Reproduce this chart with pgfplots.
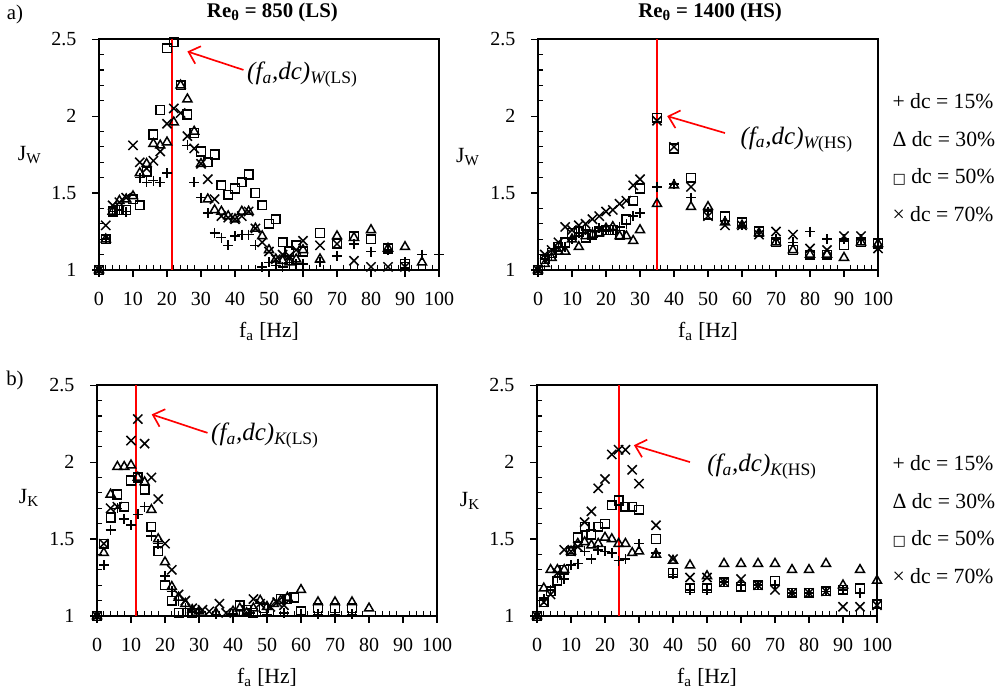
\documentclass[border=0pt]{standalone}
\usepackage{fontspec}
\setmainfont{Liberation Serif}
\newfontfamily\dejavu{DejaVu Sans}
\usepackage{pgfplots}
\pgfplotsset{compat=1.18}
\usetikzlibrary{arrows.meta}

\tikzset{
 arr/.style={red, line width=1pt, -{Straight Barb[length=6pt,width=11pt]}},
 ann/.style={font=\fontsize{15}{17}\selectfont\itshape, anchor=west, inner sep=0pt},
 ttl/.style={font=\bfseries\fontsize{12.5}{14}\selectfont, anchor=center},
}
\pgfplotsset{
 panel/.style={
  scale only axis, width=204pt, height=138.5pt,
  xmin=0, xmax=100, ymin=1, ymax=2.5,
  xtick={0,10,...,100}, ytick={1,1.5,2,2.5},
  minor x tick num=4, minor y tick num=4,
  xtick pos=bottom, ytick pos=left,
  tick align=outside, major tick length=4pt, minor tick length=-3pt,
  tick style={black, line width=0.7pt},
  axis line style={line width=0.8pt},
  clip=false,
  /pgf/number format/assume math mode=true,
  ticklabel style={font=\fontsize{12}{14}\selectfont},
  xticklabel style={yshift=-6pt},
  yticklabel style={xshift=-6pt},
  label style={font=\fontsize{13}{15}\selectfont},
  xlabel={f\textsubscript{a} [Hz]},
  xlabel style={at={(axis description cs:0.5,-0.265)}, anchor=center},
  ylabel style={rotate=-90, anchor=center},
 },
 sP/.style={only marks, mark=+, mark size=3.0pt, black, mark options={line width=0.9pt}},
 sT/.style={only marks, mark=triangle, mark size=3.1pt, black, mark options={line width=0.9pt}},
 sS/.style={only marks, mark=square, mark size=2.6pt, black, mark options={line width=0.9pt}},
 sX/.style={only marks, mark=x, mark size=3.9pt, black, mark options={line width=0.9pt}},
 redl/.style={red, line width=1.1pt},
}

\begin{document}
\begin{tikzpicture}
\path[use as bounding box] (0,0) rectangle (600pt,417pt);

% ---------------- a) left
\begin{axis}[panel, at={(59.4pt,255pt)}, anchor=south west,
  ylabel={J\textsubscript{W}}, ylabel style={at={(axis description cs:-0.204,0.5)}}]
\addplot[redl] coordinates {(21.5,1) (21.5,2.5)};
\addplot[sP] coordinates {(0,1) (2,1.2) (4,1.38) (6,1.39) (8,1.38) (12,1.60) (14,1.57) (16,1.58) (18,1.57) (20,1.63) (26,1.81) (28,1.57) (30,1.47) (32,1.37) (34,1.24) (36,1.21) (38,1.16) (40,1.22) (42,1.23) (44,1.23) (46,1.16) (48,1.02) (50,1.05) (52,1.03) (54,1.02) (56,1.05) (58,1.04) (60,1.04) (65,1.05) (70,1.09) (75,1.17) (80,1.12) (85,1.13) (90,1.05) (95,1.10) (100,1.10)};
\addplot[sT] coordinates {(0,1) (2,1.2) (4,1.38) (6,1.45) (8,1.46) (10,1.48) (12,1.63) (14,1.69) (16,1.82) (18,1.81) (20,1.83) (22,1.96) (24,2.20) (26,2.11) (28,1.90) (30,1.69) (32,1.46) (34,1.39) (36,1.38) (38,1.35) (40,1.33) (42,1.38) (44,1.38) (46,1.27) (48,1.22) (50,1.13) (52,1.07) (54,1.06) (56,1.05) (58,1.07) (60,1.13) (65,1.07) (70,1.22) (75,1.21) (80,1.26) (85,1.14) (90,1.15) (95,1.05)};
\addplot[sS] coordinates {(0,1) (2,1.20) (4,1.38) (6,1.39) (8,1.39) (10,1.46) (12,1.42) (14,1.64) (16,1.88) (18,2.04) (20,2.44) (22,2.48) (24,2.20) (26,2.01) (28,1.89) (30,1.77) (32,1.70) (34,1.75) (36,1.55) (38,1.49) (40,1.53) (42,1.57) (44,1.62) (46,1.50) (48,1.42) (50,1.30) (52,1.33) (54,1.18) (56,1.12) (58,1.16) (60,1.12) (65,1.24) (70,1.17) (75,1.22) (80,1.20) (85,1.14) (90,1.04)};
\addplot[sX] coordinates {(0,1) (2,1.29) (4,1.42) (6,1.44) (8,1.47) (10,1.81) (12,1.70) (14,1.66) (16,1.71) (18,1.77) (20,1.95) (22,2.05) (24,2.02) (26,1.87) (28,1.79) (30,1.69) (32,1.59) (34,1.46) (36,1.35) (38,1.34) (40,1.33) (42,1.35) (44,1.38) (46,1.27) (48,1.18) (50,1.12) (52,1.07) (54,1.10) (56,1.09) (58,1.13) (60,1.19) (65,1.16) (70,1.17) (75,1.06) (80,1.02) (85,1.02) (90,1.02)};
\draw[arr] (axis cs:42.5,2.30) -- (axis cs:26,2.42);
\node[ann] at (axis cs:43.5,2.27) {(f\textsubscript{a},dc)\textsubscript{W\upshape(LS)}};
\node[ttl] at (axis description cs:0.51,1.117) {Re\textsubscript{θ} = 850 (LS)};
\end{axis}

% ---------------- a) right
\begin{axis}[panel, at={(322.8pt,255pt)}, anchor=south west,
  ylabel={J\textsubscript{W}}, ylabel style={at={(axis description cs:-0.206,0.49)}}]
\addplot[redl] coordinates {(35,1) (35,2.5)};
\addplot[sP] coordinates {(0,1) (2,1.07) (4,1.10) (6,1.15) (8,1.15) (10,1.20) (12,1.24) (14,1.26) (16,1.25) (18,1.27) (20,1.26) (22,1.26) (24,1.28) (26,1.30) (28,1.35) (30,1.37) (35,1.54) (40,1.56) (45,1.47) (50,1.38) (55,1.32) (60,1.29) (65,1.25) (70,1.20) (75,1.18) (80,1.25) (85,1.20) (90,1.20) (95,1.20) (100,1.20)};
\addplot[sT] coordinates {(0,1) (2,1.04) (4,1.08) (6,1.12) (8,1.12) (10,1.20) (12,1.15) (14,1.22) (16,1.23) (18,1.24) (20,1.27) (22,1.28) (24,1.22) (26,1.22) (28,1.19) (30,1.26) (35,1.43) (40,1.55) (45,1.41) (50,1.41) (55,1.31) (60,1.29) (65,1.24) (70,1.18) (75,1.13) (80,1.10) (85,1.10) (90,1.08) (95,1.18) (100,1.17)};
\addplot[sS] coordinates {(0,1) (2,1.07) (4,1.11) (6,1.15) (8,1.18) (10,1.24) (12,1.25) (14,1.21) (16,1.23) (18,1.25) (20,1.26) (22,1.26) (24,1.23) (26,1.33) (28,1.45) (30,1.53) (35,1.99) (40,1.79) (45,1.60) (50,1.36) (55,1.35) (60,1.31) (65,1.25) (70,1.18) (75,1.13) (80,1.10) (85,1.10) (90,1.16) (95,1.18) (100,1.17)};
\addplot[sX] coordinates {(0,1) (2,1.10) (4,1.13) (6,1.18) (8,1.28) (10,1.26) (12,1.29) (14,1.30) (16,1.33) (18,1.35) (20,1.38) (22,1.39) (24,1.43) (26,1.45) (28,1.55) (30,1.59) (35,1.97) (40,1.80) (45,1.54) (50,1.35) (55,1.29) (60,1.29) (65,1.23) (70,1.25) (75,1.23) (80,1.14) (85,1.13) (90,1.22) (95,1.22) (100,1.14)};
\draw[arr] (axis cs:55,1.89) -- (axis cs:38,2.0);
\node[ann] at (axis cs:59.5,1.85) {(f\textsubscript{a},dc)\textsubscript{W\upshape(HS)}};
\node[ttl] at (axis description cs:0.506,1.117) {Re\textsubscript{θ} = 1400 (HS)};
\end{axis}

% ---------------- b) left
\begin{axis}[panel, at={(58.2pt,47.4pt)}, anchor=south west,
  ylabel={J\textsubscript{K}}, ylabel style={at={(axis description cs:-0.2,0.51)}}]
\addplot[redl] coordinates {(11.5,1) (11.5,2.5)};
\addplot[sP] coordinates {(0,1) (2,1.33) (4,1.56) (6,1.70) (8,1.63) (10,1.59) (12,1.66) (14,1.71) (16,1.52) (18,1.47) (20,1.26) (22,1.16) (24,1.10) (26,1.05) (28,1.03) (30,1.02) (35,1.01) (40,1.01) (45,1.02) (50,1.01) (55,1.02) (60,1.01) (65,1.01) (70,1.01) (75,1.01)};
\addplot[sT] coordinates {(0,1) (2,1.41) (4,1.79) (6,1.97) (8,1.97) (10,1.98) (12,1.90) (14,1.87) (16,1.69) (18,1.50) (20,1.35) (22,1.19) (24,1.12) (26,1.08) (28,1.04) (30,1.03) (35,1.02) (40,1.03) (42,1.05) (44,1.02) (46,1.05) (48,1.10) (50,1.06) (52,1.08) (54,1.10) (56,1.12) (60,1.17) (65,1.09) (70,1.09) (75,1.09) (80,1.05)};
\addplot[sS] coordinates {(0,1) (2,1.47) (4,1.64) (6,1.79) (8,1.71) (10,1.88) (12,1.90) (14,1.82) (16,1.58) (18,1.42) (20,1.20) (22,1.10) (24,1.02) (28,1.02) (42,1.07) (44,1.04) (46,1.02) (49,1.05) (54,1.11) (56,1.11) (58,1.12) (60,1.03) (65,1.05) (70,1.05) (75,1.05)};
\addplot[sX] coordinates {(0,1) (2,1.47) (4,1.70) (6,1.71) (10,2.14) (12,2.28) (14,2.12) (16,1.90) (18,1.76) (20,1.47) (22,1.30) (24,1.14) (26,1.10) (28,1.05) (31,1.04) (33,1.03) (36,1.08) (38,1.02) (46,1.11) (48,1.08) (51,1.06) (53,1.09) (55,1.07)};
\draw[arr] (axis cs:32.5,2.19) -- (axis cs:16.1,2.31);
\node[ann] at (axis cs:33.5,2.17) {(f\textsubscript{a},dc)\textsubscript{K\upshape(LS)}};
\end{axis}

% ---------------- b) right
\begin{axis}[panel, at={(322.2pt,47.4pt)}, anchor=south west,
  ylabel={J\textsubscript{K}}, ylabel style={at={(axis description cs:-0.197,0.5)}}]
\addplot[redl] coordinates {(24,1) (24,2.5)};
\addplot[sP] coordinates {(0,1) (2,1.11) (4,1.17) (6,1.25) (8,1.24) (10,1.33) (12,1.34) (14,1.42) (16,1.37) (18,1.43) (20,1.42) (22,1.41) (24,1.36) (26,1.37) (30,1.47) (35,1.41) (40,1.27) (45,1.17) (50,1.17) (55,1.22) (60,1.20) (65,1.20) (70,1.20) (75,1.15) (80,1.15) (85,1.16) (90,1.17) (95,1.15) (100,1.10)};
\addplot[sT] coordinates {(0,1) (2,1.18) (4,1.30) (6,1.30) (8,1.30) (10,1.42) (12,1.47) (14,1.48) (16,1.46) (18,1.47) (20,1.51) (22,1.50) (24,1.47) (26,1.47) (28,1.41) (30,1.42) (35,1.40) (40,1.36) (45,1.33) (50,1.26) (55,1.34) (60,1.34) (65,1.34) (70,1.34) (75,1.30) (80,1.30) (85,1.34) (90,1.20) (95,1.30) (100,1.23)};
\addplot[sS] coordinates {(0,1) (2,1.09) (4,1.16) (6,1.23) (8,1.30) (10,1.42) (12,1.51) (14,1.58) (16,1.53) (18,1.58) (20,1.60) (22,1.72) (24,1.75) (26,1.71) (28,1.71) (30,1.69) (35,1.50) (40,1.28) (45,1.18) (50,1.18) (55,1.22) (60,1.19) (65,1.20) (70,1.23) (75,1.15) (80,1.15) (85,1.16) (90,1.17) (95,1.18) (100,1.08)};
\addplot[sX] coordinates {(0,1) (2,1.09) (4,1.14) (6,1.28) (8,1.43) (10,1.42) (12,1.45) (14,1.61) (16,1.68) (18,1.83) (20,1.89) (22,2.05) (24,2.08) (26,2.08) (28,1.95) (30,1.86) (35,1.59) (40,1.37) (45,1.25) (50,1.25) (55,1.22) (60,1.24) (65,1.20) (70,1.17) (75,1.15) (80,1.15) (85,1.16) (90,1.06) (95,1.06) (100,1.07)};
\draw[arr] (axis cs:45,2.0) -- (axis cs:28.5,2.11);
\node[ann] at (axis cs:50,1.97) {(f\textsubscript{a},dc)\textsubscript{K\upshape(HS)}};
\end{axis}

% panel letters
\node[anchor=center, font=\fontsize{12.5}{14}\selectfont] at (9pt,408pt) {a)};
\node[anchor=center, font=\fontsize{12.5}{14}\selectfont] at (9pt,189pt) {b)};

% dc legends (text)
\foreach \ofs in {0,-217.2} {
 \begin{scope}[yshift=\ofs pt]
 \node[anchor=west, font=\fontsize{13}{15}\selectfont] at (532pt,356.4pt) {+ dc = 15\%};
 \node[anchor=west, font=\fontsize{13}{15}\selectfont] at (532pt,333.6pt) {Δ dc = 30\%};
 \node[anchor=west, font=\fontsize{13}{15}\selectfont] at (532pt,310.8pt) {{\dejavu\fontsize{8.5}{10}\selectfont □} dc = 50\%};
 \node[anchor=west, font=\fontsize{13}{15}\selectfont] at (532pt,288.6pt) {× dc = 70\%};
 \end{scope}
}
\end{tikzpicture}
\end{document}
